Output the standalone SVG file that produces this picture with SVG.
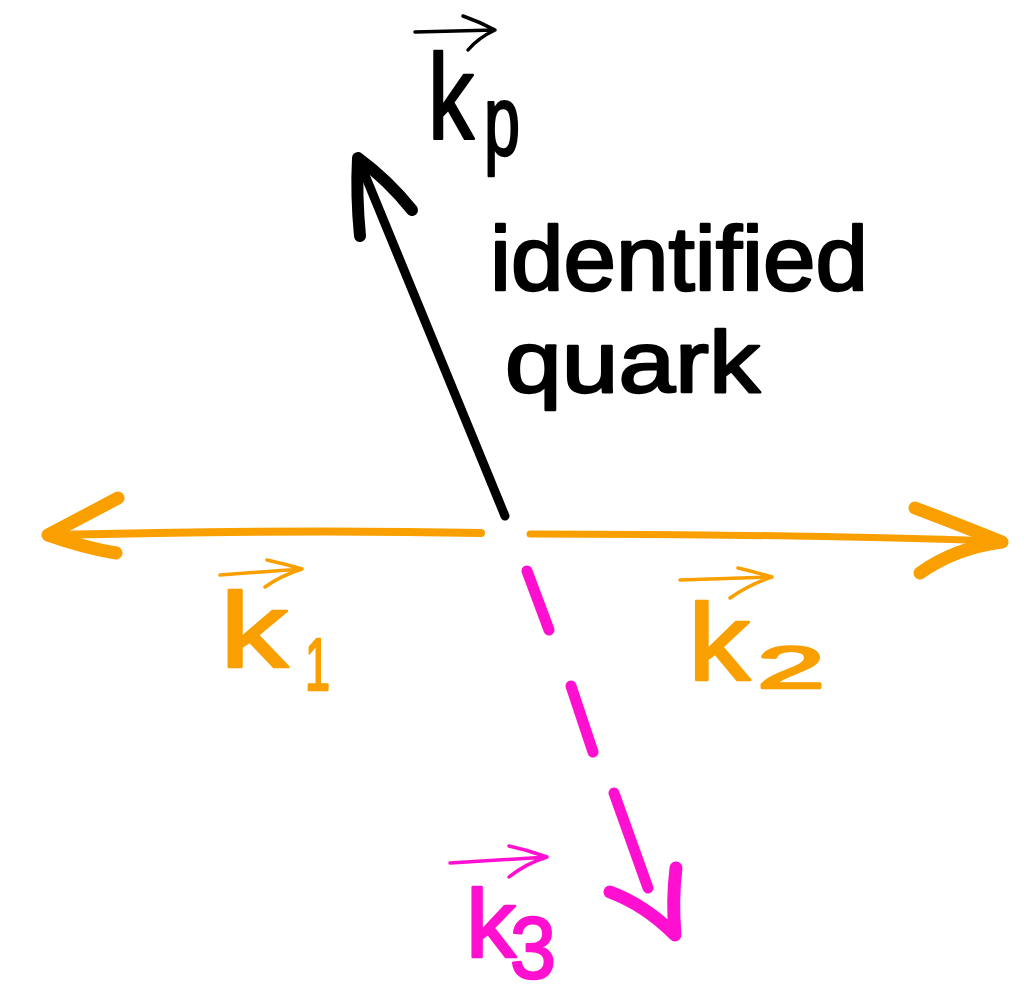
<svg xmlns="http://www.w3.org/2000/svg" width="1024" height="1000" viewBox="0 0 1024 1000">
<style>
.ln{fill:none;stroke-linecap:round;stroke-linejoin:round}
.blk{stroke:#000}
.org{stroke:#F9A000}
.mag{stroke:#FF10D0}
.t{font-family:"Liberation Sans","DejaVu Sans",sans-serif;stroke-width:2.5;stroke-linejoin:round}
.tb{fill:#000;stroke:#000}
.to{fill:#F9A000;stroke:#F9A000}
.tm{fill:#FF10D0;stroke:#FF10D0}
</style>
<rect width="1024" height="1000" fill="#fff"/>
<g id="connectors">
  <g id="kp-arrow">
    <path class="ln blk" stroke-width="9" d="M505,516 L358,158"/>
    <path class="ln blk" stroke-width="12" d="M360,236 Q356,195 358,158 Q388,180 412,210"/>
  </g>
  <g id="k1-arrow">
    <path class="ln org" stroke-width="8" d="M481,533 Q300,529 50,535"/>
    <path class="ln org" stroke-width="13" d="M118,498 Q80,518 48,535 Q85,548 116,553"/>
  </g>
  <g id="k2-arrow">
    <path class="ln org" stroke-width="7" d="M530,534 Q780,534 1000,541"/>
    <path class="ln org" stroke-width="13" d="M915,508 Q960,525 1002,542 Q955,548 920,573"/>
  </g>
  <g id="k3-arrow">
    <path class="ln mag" stroke-width="11" d="M527,571 L549,630 M571,686 L593,752 M614,793 L648,888"/>
    <path class="ln mag" stroke-width="13" d="M610,892 Q645,905 675,935 Q672,900 676,868"/>
  </g>
</g>
<g id="label-kp">
  <path class="ln blk" stroke-width="3.5" d="M415,32 L495,30 M463,16 Q480,22 495,30 Q478,38 468,50"/>
  <text class="t tb"><tspan x="428" y="138" font-size="120" textLength="46" lengthAdjust="spacingAndGlyphs">k</tspan><tspan x="484" y="155" font-size="100" textLength="36" lengthAdjust="spacingAndGlyphs">p</tspan></text>
</g>
<g id="label-identified-quark">
  <text class="t tb" x="490" y="290" font-size="90" textLength="378" lengthAdjust="spacingAndGlyphs">identified</text>
  <text class="t tb" x="505" y="392" font-size="88" textLength="255" lengthAdjust="spacingAndGlyphs">quark</text>
</g>
<g id="label-k1">
  <path class="ln org" stroke-width="3.5" d="M220,575 L302,569 M267,560 Q285,564 302,569 Q280,576 265,587"/>
  <text class="t to"><tspan x="220" y="667" font-size="105" textLength="68" lengthAdjust="spacingAndGlyphs">k</tspan><tspan x="305" y="690" font-size="75" textLength="25" lengthAdjust="spacingAndGlyphs">1</tspan></text>
</g>
<g id="label-k2">
  <path class="ln org" stroke-width="3.5" d="M680,580 L772,577 M738,568 Q755,572 772,577 Q750,584 730,598"/>
  <text class="t to"><tspan x="688" y="680" font-size="110" textLength="62" lengthAdjust="spacingAndGlyphs">k</tspan><tspan x="757" y="688" font-size="60" textLength="68" lengthAdjust="spacingAndGlyphs">2</tspan></text>
</g>
<g id="label-k3">
  <path class="ln mag" stroke-width="3.5" d="M450,863 L547,857 M509,846 Q528,850 547,857 Q525,864 509,877"/>
  <text class="t tm"><tspan x="466" y="957" font-size="96" textLength="50" lengthAdjust="spacingAndGlyphs">k</tspan><tspan x="510" y="978" font-size="88" textLength="46" lengthAdjust="spacingAndGlyphs">3</tspan></text>
</g>
</svg>
